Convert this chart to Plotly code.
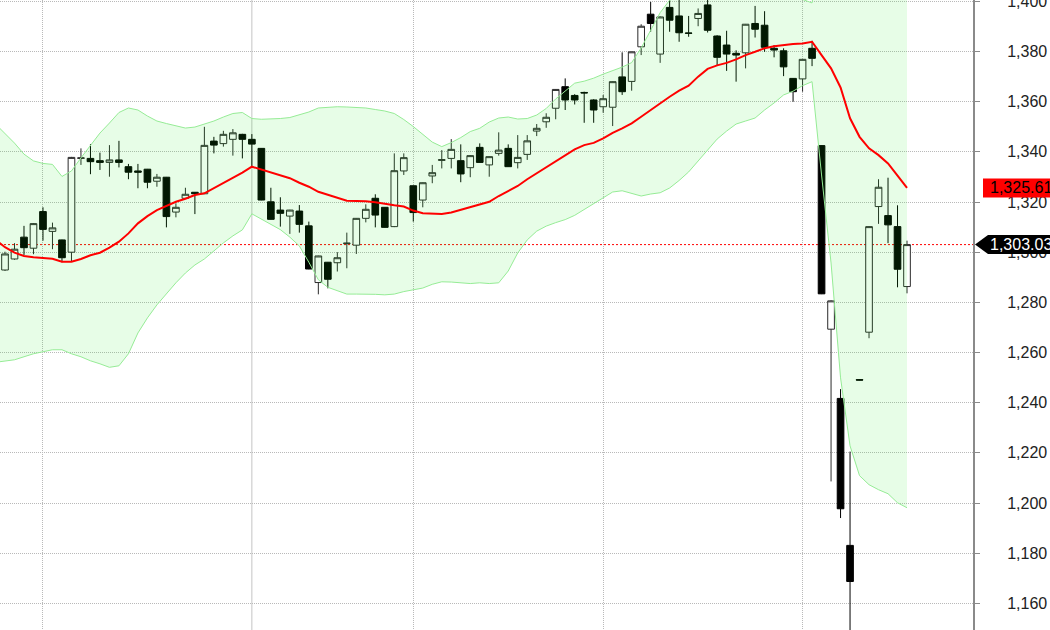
import plotly.graph_objects as go

# ---------------- data ----------------
session = list(range(96))

open_px = [1292.9, 1297.3, 1306.0, 1301.6, 1316.2, 1308.3, 1304.9, 1300.0, 1337.4, 1337.4,
           1336.5, 1335.8, 1336.8, 1334.1, 1332.4, 1333.1, 1328.3, 1329.9, 1316.0, 1321.5,
           1323.9, 1323.3, 1344.3, 1343.3, 1345.0, 1347.0, 1345.0, 1341.4, 1320.1, 1316.8,
           1314.4, 1316.4, 1310.5, 1287.9, 1296.0, 1295.8, 1303.4, 1302.8, 1313.5, 1321.5,
           1317.9, 1310.2, 1332.4, 1326.5, 1320.8, 1330.4, 1336.6, 1337.4, 1336.5, 1333.7,
           1341.8, 1334.8, 1339.4, 1341.4, 1335.7, 1339.0, 1348.3, 1352.0, 1357.4, 1366.0,
           1362.5, 1363.7, 1360.7, 1358.0, 1357.8, 1369.9, 1368.1, 1381.9, 1394.9, 1379.0,
           1397.6, 1394.2, 1387.4, 1393.2, 1398.6, 1386.2, 1382.6, 1379.3, 1379.5, 1391.2,
           1390.5, 1381.3, 1380.3, 1369.3, 1369.1, 1381.3, 1342.5, 1269.3, 1241.7, 1183.1,
           1249.2, 1268.1, 1318.2, 1314.6, 1310.2, 1286.3]

high_px = [1300.2, 1303.6, 1310.5, 1311.6, 1317.9, 1311.8, 1305.0, 1338.0, 1341.4, 1343.1,
           1339.7, 1342.7, 1344.4, 1335.2, 1335.2, 1333.2, 1331.2, 1330.0, 1319.5, 1325.7,
           1324.0, 1350.0, 1346.0, 1348.4, 1349.1, 1347.2, 1347.1, 1341.5, 1325.7, 1321.9,
           1316.9, 1318.8, 1312.2, 1298.6, 1296.1, 1300.0, 1307.8, 1313.6, 1319.1, 1323.1,
           1318.0, 1339.4, 1339.4, 1326.6, 1327.8, 1334.8, 1340.7, 1345.1, 1343.0, 1338.7,
           1343.4, 1338.2, 1347.8, 1343.0, 1346.7, 1346.7, 1351.1, 1355.4, 1365.0, 1369.3,
           1363.0, 1364.0, 1361.0, 1362.7, 1368.1, 1379.7, 1380.0, 1390.9, 1399.8, 1394.0,
           1403.0, 1402.0, 1394.2, 1397.2, 1402.0, 1386.5, 1388.3, 1380.5, 1391.0, 1398.2,
           1396.1, 1382.6, 1381.3, 1369.4, 1377.0, 1384.3, 1342.6, 1280.8, 1245.4, 1220.5,
           1249.3, 1310.3, 1329.1, 1329.7, 1318.7, 1304.6]

low_px = [1292.5, 1297.0, 1298.9, 1299.2, 1304.6, 1301.2, 1296.0, 1296.2, 1334.8, 1331.1,
          1332.8, 1330.1, 1333.8, 1329.1, 1325.5, 1325.5, 1326.1, 1309.9, 1313.9, 1321.3,
          1315.2, 1323.2, 1339.4, 1342.1, 1338.5, 1337.4, 1334.4, 1320.7, 1313.0, 1310.2,
          1307.3, 1307.8, 1293.2, 1283.2, 1285.6, 1292.3, 1293.6, 1299.3, 1311.9, 1309.9,
          1309.8, 1310.0, 1330.8, 1312.2, 1317.9, 1327.5, 1333.4, 1333.4, 1327.9, 1329.9,
          1335.7, 1330.1, 1338.5, 1334.0, 1333.4, 1336.8, 1346.3, 1349.6, 1353.0, 1356.7,
          1358.9, 1351.6, 1351.6, 1355.6, 1350.3, 1362.7, 1364.4, 1378.6, 1387.9, 1375.5,
          1387.9, 1383.9, 1385.9, 1390.1, 1387.6, 1374.6, 1372.3, 1368.0, 1373.3, 1385.6,
          1379.9, 1377.7, 1370.2, 1360.0, 1364.0, 1374.2, 1283.3, 1208.6, 1194.0, 1140.0,
          1248.9, 1265.7, 1311.3, 1303.6, 1286.0, 1283.6]

close_px = [1299.3, 1301.2, 1301.8, 1311.4, 1309.1, 1309.7, 1297.8, 1337.8, 1337.6, 1336.1,
            1335.8, 1336.8, 1335.8, 1331.9, 1331.9, 1327.9, 1329.9, 1314.2, 1317.9, 1323.1,
            1323.3, 1342.6, 1342.7, 1347.0, 1347.6, 1345.0, 1343.1, 1320.8, 1313.1, 1315.5,
            1316.8, 1311.1, 1293.3, 1298.5, 1289.2, 1297.8, 1303.6, 1313.5, 1317.1, 1314.8,
            1309.9, 1332.5, 1337.7, 1315.8, 1327.7, 1331.7, 1336.9, 1341.0, 1331.2, 1338.5,
            1335.8, 1338.1, 1340.7, 1334.1, 1337.8, 1344.4, 1349.4, 1353.8, 1364.9, 1360.7,
            1360.7, 1363.5, 1356.7, 1361.2, 1368.0, 1364.0, 1379.9, 1390.1, 1391.2, 1393.8,
            1392.5, 1387.5, 1387.3, 1395.2, 1388.5, 1377.7, 1379.0, 1378.6, 1390.9, 1388.9,
            1381.7, 1380.6, 1373.9, 1364.0, 1376.9, 1377.3, 1283.4, 1280.6, 1197.7, 1168.7,
            1249.0, 1310.2, 1325.9, 1310.9, 1293.2, 1303.03]

# indicator series (20-period moving average and Bollinger bands), one session earlier than the candles
band_session = list(range(-1, 96))

ma20 = [1305.0, 1302.0, 1299.8, 1298.5, 1298.0, 1297.7, 1297.4, 1296.2, 1296.2, 1297.3, 1298.8,
        1299.8, 1301.8, 1304.2, 1307.5, 1311.5, 1314.4, 1316.8, 1318.4, 1320.1, 1321.3,
        1322.8, 1323.5, 1325.5, 1327.5, 1329.5, 1331.7, 1334.1, 1333.0, 1331.7, 1330.9,
        1329.5, 1327.7, 1326.1, 1324.1, 1322.8, 1321.5, 1320.5, 1320.4, 1320.3, 1319.9,
        1319.2, 1318.7, 1318.2, 1316.6, 1315.5, 1315.2, 1315.2, 1315.8, 1316.8, 1317.8,
        1318.8, 1320.1, 1322.4, 1324.4, 1326.4, 1329.1, 1331.5, 1333.8, 1336.1, 1338.4,
        1341.0, 1342.7, 1343.6, 1345.4, 1347.6, 1349.4, 1351.4, 1354.0, 1356.7, 1359.2,
        1362.0, 1364.4, 1366.4, 1370.0, 1373.1, 1374.5, 1375.5, 1376.9, 1378.6, 1379.9,
        1381.3, 1382.1, 1382.7, 1383.0, 1383.2, 1383.9, 1378.6, 1373.3, 1365.7, 1353.4,
        1346.0, 1341.4, 1338.7, 1335.4, 1330.5, 1325.61]

bb_upper = [1351.1, 1347.5, 1343.5, 1339.1, 1336.4, 1335.4, 1335.0, 1330.2, 1332.4, 1337.6, 1342.7,
            1347.5, 1351.5, 1355.7, 1357.5, 1356.7, 1354.3, 1352.3, 1351.3, 1350.3, 1349.5,
            1349.9, 1351.1, 1352.3, 1353.9, 1355.3, 1355.7, 1353.3, 1353.0, 1353.1, 1353.3,
            1353.7, 1354.7, 1355.9, 1357.5, 1357.9, 1358.0, 1357.9, 1357.7, 1357.5, 1356.9,
            1356.3, 1355.3, 1352.9, 1350.1, 1347.1, 1343.9, 1342.1, 1343.7, 1345.7, 1348.1,
            1349.4, 1351.9, 1353.5, 1353.9, 1353.1, 1353.3, 1354.7, 1357.3, 1361.1, 1364.4,
            1367.4, 1368.2, 1369.4, 1371.0, 1372.4, 1373.8, 1375.6, 1381.4, 1388.5, 1395.5,
            1400.5, 1402.0, 1403.0, 1403.6, 1405.5, 1403.9, 1402.7, 1402.7, 1404.9, 1406.3,
            1405.9, 1404.7, 1402.7, 1401.8, 1400.8, 1399.4, 1426.4, 1450.9, 1481.5, 1484.0,
            1481.1, 1475.5, 1472.1, 1467.1, 1460.9, 1453.1]

bb_lower = [1256.1, 1256.7, 1257.1, 1258.3, 1259.5, 1260.3, 1261.1, 1261.1, 1259.5, 1258.3, 1256.7,
            1255.5, 1254.1, 1254.7, 1259.5, 1267.8, 1273.8, 1279.0, 1283.4, 1287.8, 1291.7,
            1294.9, 1297.3, 1300.5, 1303.7, 1306.5, 1308.9, 1315.3, 1313.2, 1310.8, 1309.0,
            1306.0, 1302.5, 1296.0, 1289.0, 1286.0, 1284.5, 1283.3, 1283.3, 1283.3, 1283.2,
            1283.0, 1283.3, 1284.3, 1285.0, 1285.7, 1287.2, 1288.2, 1288.1, 1287.9, 1287.5,
            1287.8, 1287.5, 1287.8, 1292.5, 1299.7, 1304.9, 1308.4, 1310.4, 1311.8, 1313.0,
            1314.7, 1317.0, 1319.5, 1321.5, 1324.0, 1324.5, 1323.4, 1322.4, 1323.2, 1323.7,
            1325.6, 1328.6, 1332.0, 1336.4, 1340.7, 1345.1, 1348.3, 1351.1, 1352.3, 1353.5,
            1356.7, 1359.5, 1362.7, 1364.2, 1366.4, 1368.0, 1330.8, 1295.7, 1249.9, 1222.8,
            1210.9, 1207.3, 1205.3, 1203.7, 1200.1, 1198.1]

price_ticks = [1160, 1180, 1200, 1220, 1240, 1260, 1280, 1300, 1320, 1340, 1360, 1380, 1400]
month_starts = [4, 43, 63, 84]
year_start = 26

last_close = close_px[-1]
last_ma = ma20[-1]

# ---------------- styling ----------------
FONT = "Arial, 'Liberation Sans', sans-serif"
BAND_LINE = "rgb(150,236,150)"
BAND_FILL = "rgba(20,235,20,0.10)"
GRID = "#b9b9b9"

fig = go.Figure()

fig.add_trace(go.Scatter(x=band_session, y=bb_lower, mode="lines",
                         line=dict(color=BAND_LINE, width=1), hoverinfo="skip"))
fig.add_trace(go.Scatter(x=band_session, y=bb_upper, mode="lines",
                         line=dict(color=BAND_LINE, width=1),
                         fill="tonexty", fillcolor=BAND_FILL, hoverinfo="skip"))
fig.add_trace(go.Scatter(x=band_session, y=ma20, mode="lines",
                         line=dict(color="#ff0000", width=2), hoverinfo="skip"))

fig.add_trace(go.Candlestick(
    x=session, open=open_px, high=high_px, low=low_px, close=close_px,
    increasing=dict(fillcolor="white", line=dict(color="#2a2a2a", width=1)),
    decreasing=dict(fillcolor="black", line=dict(color="black", width=1)),
    whiskerwidth=0,
))

shapes = [
    # solid divider (year start)
    dict(type="line", xref="x", yref="paper", x0=year_start, x1=year_start, y0=0, y1=1,
         line=dict(color="#c4c4c4", width=1), layer="below"),
    # dotted last-price line
    dict(type="line", xref="paper", yref="y", x0=0, x1=1, y0=last_close, y1=last_close,
         line=dict(color="#ff0000", width=1, dash="2px,2px"), layer="between"),
    # red MA label box
    dict(type="rect", xref="paper", yref="y", xsizemode="pixel", ysizemode="pixel",
         xanchor=1, yanchor=last_ma, x0=10, x1=110, y0=-9.5, y1=9.5,
         fillcolor="#ff0000", line=dict(width=0), layer="above"),
    # black last-price pointer label
    dict(type="path", xref="paper", yref="y", xsizemode="pixel", ysizemode="pixel",
         xanchor=1, yanchor=last_close,
         path="M 2,0 L 15,9.5 L 110,9.5 L 110,-9.5 L 15,-9.5 Z",
         fillcolor="black", line=dict(width=0), layer="above"),
]

annotations = [
    dict(xref="paper", yref="y", x=1, y=last_ma, xanchor="left", yanchor="middle",
         xshift=15, text=f"{last_ma:,.2f}", showarrow=False,
         font=dict(family=FONT, size=16, color="black")),
    dict(xref="paper", yref="y", x=1, y=last_close, xanchor="left", yanchor="middle",
         xshift=15, text=f"{last_close:,.2f}", showarrow=False,
         font=dict(family=FONT, size=16, color="white")),
]

fig.update_layout(
    width=1050, height=630,
    margin=dict(l=0, r=77, t=0, b=0, autoexpand=False),
    paper_bgcolor="white", plot_bgcolor="white",
    showlegend=False,
    boxgap=0.3, boxgroupgap=0,
    shapes=shapes, annotations=annotations,
    xaxis=dict(range=[-0.527, 101.95], tickvals=month_starts, showticklabels=False,
               ticks="", showgrid=True, gridcolor=GRID, griddash="1px,1px", gridwidth=1,
               zeroline=False, showline=False, automargin=False,
               rangeslider=dict(visible=False)),
    yaxis=dict(side="right", range=[1149.36, 1400.56], tickvals=price_ticks,
               ticktext=[f"{v:,}" for v in price_ticks],
               showgrid=True, gridcolor=GRID, griddash="1px,1px", gridwidth=1,
               zeroline=False, showline=True, linecolor="#8a8a8a", linewidth=2,
               ticks="outside", ticklen=5, tickcolor="#8a8a8a", tickwidth=1,
               ticklabelstandoff=24, ticklabeloverflow="allow", automargin=False,
               tickfont=dict(family=FONT, size=16, color="#222222")),
)

fig.write_html("out.html")
